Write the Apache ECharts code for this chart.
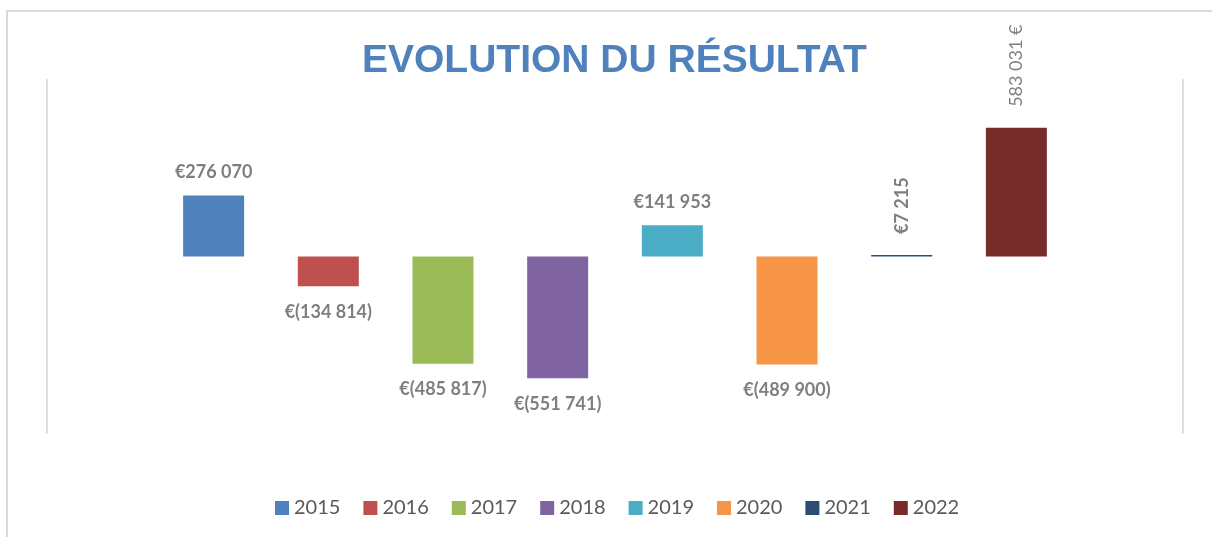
<!DOCTYPE html>
<html>
<head>
<meta charset="utf-8">
<title>Evolution du résultat</title>
<script src="https://cdn.jsdelivr.net/npm/echarts@6/dist/echarts.min.js"></script>
<style>
    html, body { margin: 0; padding: 0; background: #fff; }
    #frame {
        position: absolute; left: 6px; top: 10px; width: 1206px; height: 527px;
        border-top: 2px solid #d9d9d9; border-left: 2px solid #d9d9d9;
        box-sizing: border-box;
    }
    #chart { position: absolute; left: 0; top: 0; width: 1212px; height: 537px; }
</style>
</head>
<body>
<div id="frame"></div>
<div id="chart"></div>
<script>
// données
let years = ['2015', '2016', '2017', '2018', '2019', '2020', '2021', '2022'];
let results = [276070, -134814, -485817, -551741, 141953, -489900, 7215, 583031];
let colors = ['#4f81bd', '#c0504d', '#9bbb59', '#8064a2', '#4bacc6', '#f79646', '#2c4d75', '#772c2a'];

let fmtNumber = function (v) {
    return Math.abs(v).toString().replace(/\B(?=(\d{3})+(?!\d))/g, ' ');
};

// €276 070 / €(134 814) ; la dernière année est au format "583 031 €"
let fmtLabel = function (v, idx) {
    if (idx === years.length - 1) return fmtNumber(v) + ' €';
    return v < 0 ? '€(' + fmtNumber(v) + ')' : '€' + fmtNumber(v);
};

let series = [];
years.forEach(function (year, i) {
    let rotated = i >= 6;
    let negative = results[i] < 0;
    series.push({
        name: year,
        type: 'bar',
        data: [results[i]],
        barWidth: 61,
        barGap: '88%',
        itemStyle: { color: colors[i] },
        label: {
            show: true,
            position: 'outside',
            distance: rotated ? 21 : (negative ? 17 : 14),
            rotate: rotated ? 90 : 0,
            align: rotated ? 'left' : 'center',
            verticalAlign: rotated ? 'middle' : null,
            fontFamily: 'Lato',
            fontWeight: i === 7 ? 'normal' : 'bold',
            fontSize: 18,
            color: '#7f7f7f',
            formatter: function (p) { return fmtLabel(p.value, i); }
        }
    });
});

let axisStyle = {
    type: 'value',
    min: -800000,
    max: 800000,
    axisLine: { show: true, lineStyle: { color: '#dedede', width: 2 } },
    axisTick: { show: false },
    axisLabel: { show: false },
    splitLine: { show: false }
};

let chart = echarts.init(document.getElementById('chart'), null, { renderer: 'canvas' });
chart.setOption({
    animation: false,
    title: {
        text: 'EVOLUTION DU RÉSULTAT',
        left: 357,
        top: 37,
        textStyle: {
            fontFamily: 'Liberation Sans',
            fontWeight: 'bold',
            fontSize: 39,
            color: '#4f81bd'
        }
    },
    legend: {
        data: years,
        top: 493,
        left: 270,
        icon: 'rect',
        itemWidth: 14,
        itemHeight: 14,
        itemGap: 23,
        textStyle: { fontFamily: 'Lato', fontSize: 20, color: '#595959' }
    },
    grid: { left: 47, right: 29, top: 80, bottom: 104, containLabel: false },
    xAxis: {
        type: 'category',
        data: [''],
        axisLine: { show: false },
        axisTick: { show: false },
        axisLabel: { show: false }
    },
    yAxis: [
        Object.assign({ position: 'left' }, axisStyle),
        Object.assign({ position: 'right' }, axisStyle)
    ],
    series: series
});
</script>
</body>
</html>
